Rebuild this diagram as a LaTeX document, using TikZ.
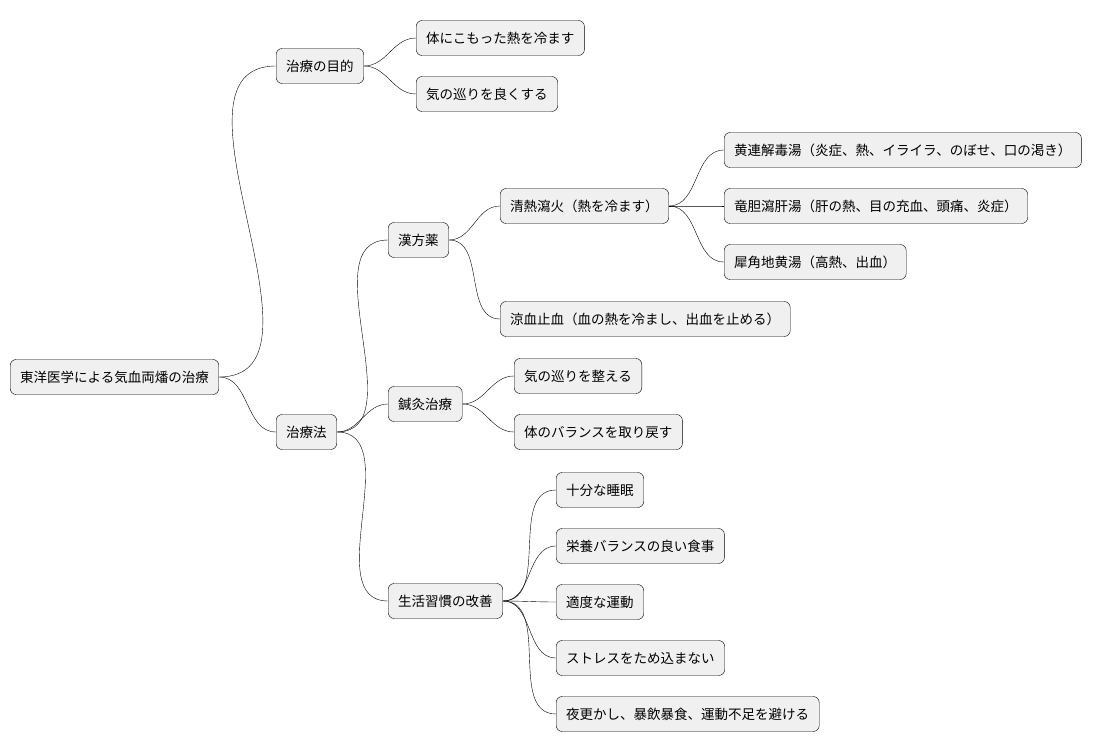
\documentclass[tikz,border=0pt]{standalone}
\usepackage{fontspec}
\setmainfont{Noto Sans CJK JP}
\usetikzlibrary{positioning}
\tikzset{
  topic/.style={draw, rounded corners=6pt, fill=black!6, anchor=west,
    minimum height=35pt, inner xsep=10pt, font=\fontsize{13.5}{16}\selectfont},
  branch/.style={thin, out=0, in=180}
}
\begin{document}
\begin{tikzpicture}[x=1pt,y=-1pt]
\useasboundingbox (0,0) rectangle (1104,752);
\node[topic] (root) at (10,377) {東洋医学による気血両燔の治療};
\node[topic] (goal) at (276,66) {治療の目的};
\node[topic] (goal_a) at (416,38) {体にこもった熱を冷ます};
\node[topic] (goal_b) at (416,94) {気の巡りを良くする};
\node[topic] (cure) at (276,432) {治療法};
\node[topic] (herb) at (388,240) {漢方薬};
\node[topic] (heat) at (500,206) {清熱瀉火（熱を冷ます）};
\node[topic] (heat_a) at (724,150) {黄連解毒湯（炎症、熱、イライラ、のぼせ、口の渇き）};
\node[topic] (heat_b) at (724,206) {竜胆瀉肝湯（肝の熱、目の充血、頭痛、炎症）};
\node[topic] (heat_c) at (724,262) {犀角地黄湯（高熱、出血）};
\node[topic] (blood) at (500,319) {涼血止血（血の熱を冷まし、出血を止める）};
\node[topic] (acu) at (388,404) {鍼灸治療};
\node[topic] (acu_a) at (514,376) {気の巡りを整える};
\node[topic] (acu_b) at (514,432) {体のバランスを取り戻す};
\node[topic] (life) at (388,601) {生活習慣の改善};
\node[topic] (life_a) at (556,490) {十分な睡眠};
\node[topic] (life_b) at (556,546) {栄養バランスの良い食事};
\node[topic] (life_c) at (556,602) {適度な運動};
\node[topic] (life_d) at (556,658) {ストレスをため込まない};
\node[topic] (life_e) at (556,714) {夜更かし、暴飲暴食、運動不足を避ける};
\foreach \p/\c in {root/goal, root/cure, goal/goal_a, goal/goal_b,
    cure/herb, cure/acu, cure/life, herb/heat, herb/blood,
    heat/heat_a, heat/heat_b, heat/heat_c, acu/acu_a, acu/acu_b,
    life/life_a, life/life_b, life/life_c, life/life_d, life/life_e}
  \draw[branch] (\p.east) to (\c.west);
\end{tikzpicture}
\end{document}
